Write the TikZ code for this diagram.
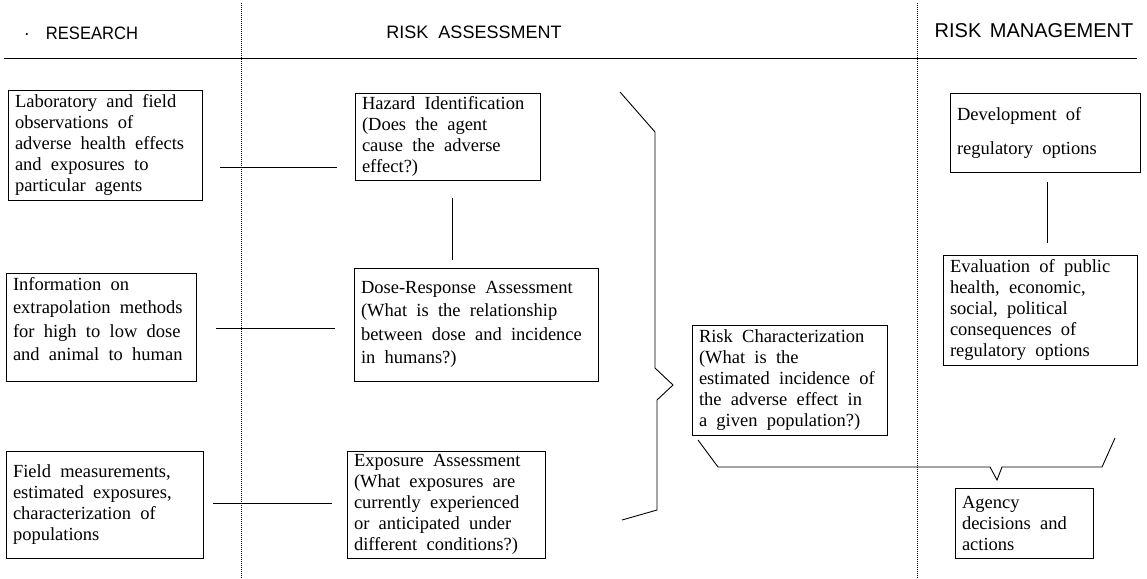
\documentclass[tikz,border=0pt]{standalone}
\usepackage{fontspec}
\setmainfont{Liberation Serif}
\newfontfamily\headfont{Liberation Sans}
\newfontfamily\bodyfont{Liberation Serif}
\newcommand\wspace{\spaceskip=0.5em plus 0.2em minus 0.1em\relax}
\begin{document}
\begin{tikzpicture}[x=1pt,y=-1pt,
  box/.style={draw, line width=0.9pt, align=left, inner xsep=7pt, inner ysep=0pt, execute at begin node=\wspace},
  conn/.style={line width=0.9pt},
  sep/.style={line width=0.5pt, dash pattern=on 1pt off 1pt},
  head/.style={font=\headfont\fontsize{18}{20}\selectfont},
  bodyA/.style={font=\bodyfont\fontsize{18.5}{21}\selectfont},
  bodyB/.style={font=\bodyfont\fontsize{18.5}{23.5}\selectfont},
  bodyC/.style={font=\bodyfont\fontsize{18.5}{34}\selectfont}]
\useasboundingbox (0,0) rectangle (1147,578);
% headers
\node[head] (dot) at (27,35) {.};
\node[head, xscale=0.92] (hres) at (92,33) {RESEARCH};
\node[head] (hass) at (474,32) {RISK\hspace{5pt} ASSESSMENT};
\node[head, font=\headfont\fontsize{20}{22}\selectfont] (hman) at (1034,31) {RISK\hspace{3pt} MANAGEMENT};
\coordinate (rl) at (4,58); \coordinate (rr) at (1137,58);
\draw[conn] (rl) -- (rr);
\coordinate (d1t) at (241,3); \coordinate (d1b) at (241,578);
\coordinate (d2t) at (917,3); \coordinate (d2b) at (917,578);
\draw[sep] (d1t) -- (d1b);
\draw[sep] (d2t) -- (d2b);
% research boxes
\node[box,bodyA,minimum width=194pt,minimum height=110pt,text width=180pt] (lab) at (105,145)
 {Laboratory and field\\observations of\\adverse health effects\\and exposures to\\particular agents};
\node[box,bodyB,minimum width=190pt,minimum height=108pt,text width=176pt] (info) at (101,327)
 {Information on\\extrapolation methods\\for high to low dose\\and animal to human\\[-7pt]\mbox{}};
\node[box,bodyA,minimum width=197pt,minimum height=107pt,text width=183pt] (field) at (104.5,504.5)
 {Field measurements,\\estimated exposures,\\characterization of\\populations};
% assessment boxes
\node[box,bodyA,minimum width=185pt,minimum height=87pt,text width=171pt] (haz) at (447.5,136.5)
 {Hazard Identification\\(Does the agent\\cause the adverse\\effect?)};
\node[box,bodyB,minimum width=244pt,minimum height=113pt,text width=230pt] (dose) at (476,324.5)
 {Dose-Response Assessment\\(What is the relationship\\between dose and incidence\\in humans?)};
\node[box,bodyA,minimum width=198pt,minimum height=107pt,text width=184pt] (expo) at (446,504.5)
 {Exposure Assessment\\(What exposures are\\currently experienced\\or anticipated under\\different conditions?)};
\node[box,bodyA,minimum width=195pt,minimum height=110pt,text width=181pt] (riskc) at (789.5,380)
 {Risk Characterization\\(What is the\\estimated incidence of\\the adverse effect in\\a given population?)};
% management boxes
\node[box,bodyC,minimum width=190pt,minimum height=79pt,text width=176pt] (dev) at (1045,132.5)
 {Development of\\regulatory options};
\node[box,bodyA,minimum width=194pt,minimum height=110pt,text width=180pt] (eval) at (1040,310)
 {Evaluation of public\\health, economic,\\social, political\\consequences of\\regulatory options};
\node[box,bodyA,minimum width=138pt,minimum height=70pt,text width=124pt] (agency) at (1024,523)
 {Agency\\decisions and\\actions};
% connectors
\coordinate (c1a) at (220,167); \coordinate (c1b) at (337,167);
\coordinate (c2a) at (216,328); \coordinate (c2b) at (335,328);
\coordinate (c3a) at (213,503); \coordinate (c3b) at (332,503);
\draw[conn] (c1a) -- (c1b);
\draw[conn] (c2a) -- (c2b);
\draw[conn] (c3a) -- (c3b);
\coordinate (v1a) at (452,198); \coordinate (v1b) at (452,260);
\draw[conn] (v1a) -- (v1b);
\coordinate (v2a) at (1047,182); \coordinate (v2b) at (1047,243);
\draw[conn] (v2a) -- (v2b);
% big brace
\coordinate (b1) at (620,92); \coordinate (b2) at (655,132); \coordinate (b3) at (655,368);
\coordinate (b4) at (673,385); \coordinate (b5) at (657,400); \coordinate (b6) at (657,510);
\coordinate (b7) at (622,520);
\draw[conn] (b1) -- (b2) -- (b3) -- (b4) -- (b5) -- (b6) -- (b7);
% bottom brace
\coordinate (e1) at (698,440); \coordinate (e2) at (718,467); \coordinate (e3) at (990,467);
\coordinate (e4) at (997,480); \coordinate (e5) at (1002,467); \coordinate (e6) at (1102,467);
\coordinate (e7) at (1115,438);
\draw[conn] (e1) -- (e2) -- (e3) -- (e4) -- (e5) -- (e6) -- (e7);
\end{tikzpicture}
\end{document}
